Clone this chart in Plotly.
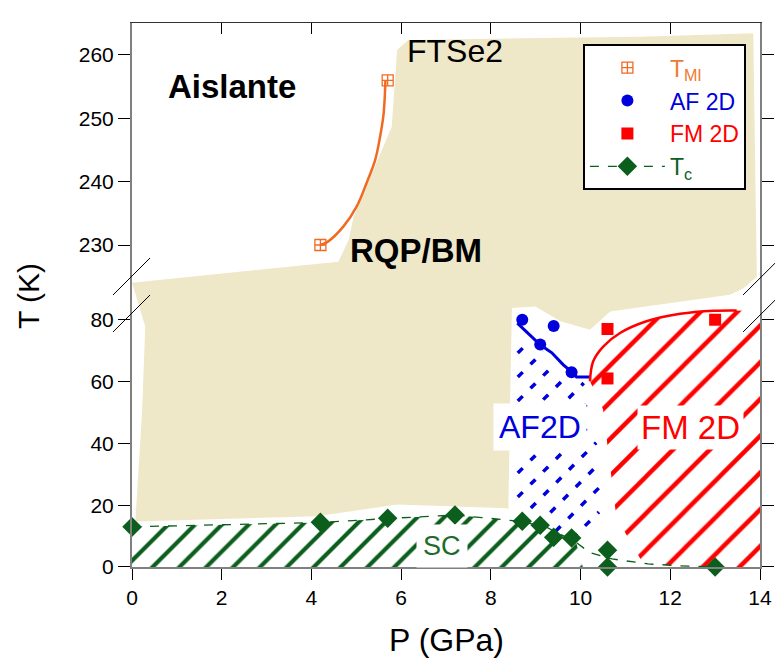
import plotly.graph_objects as go

FONT = "Liberation Sans, Arial, sans-serif"
BEIGE = "#EEE8C8"
GREEN = "#0B5E1C"
BLUE = "#0000DD"
RED = "#FF0000"
ORANGE = "#F06A22"

# ---------------- data (P in GPa, T in K) ----------------
# T_MI (upper panel)
tmi_P = [4.2, 5.7]
tmi_T = [230, 256]
tmi_curve_P = [4.2, 4.36, 4.71, 5.01, 5.23, 5.42, 5.53, 5.61, 5.65]
tmi_curve_T = [230, 230.5, 232.9, 236.1, 239.8, 243.4, 247.1, 250.8, 256]

# AF 2D
af_P = [8.7, 9.4, 9.1, 9.8]
af_T = [80, 78, 72, 63]
af_line_P = [8.59, 8.87, 9.10, 9.36, 9.61, 9.80, 9.91, 10.21]
af_line_T = [78.9, 75.2, 71.9, 69.3, 65.5, 63.1, 61.5, 61.5]

# FM 2D
fm_P = [10.6, 10.6, 13.0]
fm_T = [77, 61, 80]
fm_curve_P = [10.21, 10.28, 10.51, 10.88, 11.47, 12.22, 12.96, 13.48]
fm_curve_T = [60.1, 66.5, 71.4, 75.7, 79.5, 81.9, 82.9, 83.0]

# Tc
tc_P = [0, 4.2, 5.7, 7.2, 8.7, 9.1, 9.4, 9.8, 10.6, 10.6, 13.0]
tc_T = [13, 14.5, 15.8, 16.8, 14.8, 13.5, 9.6, 9.4, 5.4, 0, 0]
tc_line_P = [0, 4.2, 5.7, 7.2, 7.8, 8.7, 9.25, 9.9, 10.2, 10.7, 11.5, 12.2, 13]
tc_line_T = [13, 14.4, 15.7, 16.8, 16, 14.7, 12.8, 8, 4.7, 2.6, 1, 0.4, 0]

# Beige (RQP/BM) region, upper panel part
bg_up_P = [0.083, 0, 4.60, 4.83, 4.94, 5.79, 5.91, 6.16, 8.65, 11.33, 13.85, 13.89, 13.93, 13.63, 13.33]
bg_up_T = [222.1, 224.05, 227.36, 230.79, 234.47, 248.68, 260.79, 262.37, 262.64, 262.89, 263.43, 246.1, 225.0, 223.16, 222.1]
# Beige region, lower panel part
bg_lo_P = [0.042, 13.6, 13.33, 10.66, 10.21, 9.55, 8.99, 8.47, 8.43, 8.39, 8.36, 5.91, 4.12, 0.074, 0.223, 0.296]
bg_lo_T = [90.0, 90.0, 88.1, 82.7, 76.8, 79.5, 84.3, 83.8, 54.0, 18.5, 19.0, 20.2, 16.4, 14.75, 49.9, 77.8]

# Hatched regions
sc_P = [0, 4.2, 5.7, 7.2, 7.8, 8.7, 9.25, 9.9, 10.05, 0]
sc_T = [13, 14.4, 15.7, 16.8, 16, 14.7, 12.8, 8, 0, 0]
afr_P = [8.6, 8.87, 9.1, 9.36, 9.61, 9.8, 9.91, 10.21, 10.35, 10.5, 10.0, 9.25, 8.7, 8.6]
afr_T = [76, 73.5, 70.5, 67.5, 63.5, 61, 59.5, 59.5, 40, 20, 8, 12.8, 14.7, 15]
fmr_P = [10.21, 10.28, 10.51, 10.88, 11.47, 12.22, 12.96, 13.48, 14, 14, 13, 12.2, 11.4, 10.8, 10.6, 10.5]
fmr_T = [60.1, 66.5, 71.4, 75.7, 79.5, 81.9, 82.9, 83.0, 83, 0, 0, 0.4, 1, 16, 39, 51]

x_ticks = [0, 2, 4, 6, 8, 10, 12, 14]
y_lo_ticks = [0, 20, 40, 60, 80]
y_up_ticks = [230, 240, 250, 260]

X_RANGE = [0, 14]
Y_LO_RANGE = [0, 88.97]
Y_UP_RANGE = [222.58, 265.05]
BREAK = 0.5055

# plot-area size in px (for a 45-degree on-screen hatch)
PX_PER_P = 628 / (X_RANGE[1] - X_RANGE[0])
PX_PER_T = (BREAK * 544) / (Y_LO_RANGE[1] - Y_LO_RANGE[0])


def hatch_lines(xs, ys, spacing_px):
    """Clip a family of '/' lines (45 deg on screen) to a polygon."""
    us = [x * PX_PER_P for x in xs]
    vs = [y * PX_PER_T for y in ys]
    n = len(us)
    ds = [v - u for u, v in zip(us, vs)]
    c = min(ds) + spacing_px / 2
    out_x, out_y = [], []
    while c < max(ds):
        pts = []
        for i in range(n):
            u1, v1, u2, v2 = us[i], vs[i], us[(i + 1) % n], vs[(i + 1) % n]
            f1, f2 = v1 - u1 - c, v2 - u2 - c
            if (f1 < 0) != (f2 < 0):
                t = f1 / (f1 - f2)
                pts.append(u1 + t * (u2 - u1))
        pts.sort()
        for k in range(0, len(pts) - 1, 2):
            for u in (pts[k], pts[k + 1]):
                out_x.append(u / PX_PER_P)
                out_y.append((u + c) / PX_PER_T)
            out_x.append(None)
            out_y.append(None)
        c += spacing_px
    return out_x, out_y


fig = go.Figure()

# beige regions
fig.add_trace(go.Scatter(x=bg_up_P, y=bg_up_T, xaxis="x2", yaxis="y2", mode="lines",
                         fill="toself", fillcolor=BEIGE, line=dict(width=0, color=BEIGE),
                         showlegend=False, hoverinfo="skip"))
fig.add_trace(go.Scatter(x=bg_lo_P, y=bg_lo_T, mode="lines",
                         fill="toself", fillcolor=BEIGE, line=dict(width=0, color=BEIGE),
                         showlegend=False, hoverinfo="skip"))


def hatch(xs, ys, color, size, solidity):
    return go.Scatter(x=xs, y=ys, mode="lines", fill="toself",
                      fillcolor="rgba(0,0,0,0)", line=dict(width=0, color="rgba(0,0,0,0)"),
                      fillpattern=dict(shape="/", fgcolor=color, bgcolor="rgba(0,0,0,0)",
                                       size=size, solidity=solidity, fillmode="replace"),
                      showlegend=False, hoverinfo="skip")


fig.add_trace(hatch(sc_P, sc_T, GREEN, 19, 0.22))
fig.add_trace(hatch(fmr_P, fmr_T, RED, 26, 0.17))
hx, hy = hatch_lines(afr_P, afr_T, 24)
fig.add_trace(go.Scatter(x=hx, y=hy, mode="lines", connectgaps=False,
                         line=dict(color=BLUE, width=3.5, dash="7px,11px"),
                         showlegend=False, hoverinfo="skip"))

# lines
fig.add_trace(go.Scatter(x=tc_line_P, y=tc_line_T, mode="lines",
                         line=dict(color=GREEN, width=1.3, dash="dash"),
                         showlegend=False, hoverinfo="skip"))
fig.add_trace(go.Scatter(x=tmi_curve_P, y=tmi_curve_T, xaxis="x2", yaxis="y2", mode="lines",
                         line=dict(color=ORANGE, width=2.5, shape="spline"),
                         showlegend=False, hoverinfo="skip"))
fig.add_trace(go.Scatter(x=af_line_P, y=af_line_T, mode="lines",
                         line=dict(color=BLUE, width=3),
                         showlegend=False, hoverinfo="skip"))
fig.add_trace(go.Scatter(x=fm_curve_P, y=fm_curve_T, mode="lines",
                         line=dict(color=RED, width=2.5, shape="spline"),
                         showlegend=False, hoverinfo="skip"))

# markers
fig.add_trace(go.Scatter(x=tmi_P, y=tmi_T, xaxis="x2", yaxis="y2", mode="markers",
                         marker=dict(symbol="square-cross-open", size=11, color=ORANGE,
                                     line=dict(width=1.3, color=ORANGE)),
                         name='<span style="color:#F07A30">T<sub>MI</sub></span>'))
fig.add_trace(go.Scatter(x=af_P, y=af_T, mode="markers",
                         marker=dict(symbol="circle", size=12, color=BLUE),
                         name='<span style="color:#0000DD">AF 2D</span>'))
fig.add_trace(go.Scatter(x=fm_P, y=fm_T, mode="markers",
                         marker=dict(symbol="square", size=12, color=RED),
                         name='<span style="color:#FF0000">FM 2D</span>'))
fig.add_trace(go.Scatter(x=tc_P, y=tc_T, mode="markers", cliponaxis=False,
                         marker=dict(symbol="diamond", size=15, color=GREEN),
                         showlegend=False))
fig.add_trace(go.Scatter(x=[None], y=[None], mode="lines+markers",
                         line=dict(color=GREEN, width=1.3, dash="dash"),
                         marker=dict(symbol="diamond", size=15, color=GREEN),
                         name='<span style="color:#0B5E1C">T<sub>c</sub></span>'))

tickfont = dict(family=FONT, size=21, color="black")
common_x = dict(range=X_RANGE, tickvals=x_ticks, showgrid=False, zeroline=False,
                tickcolor="black", tickwidth=1.2, ticklen=11, automargin=False)
common_y = dict(showgrid=False, zeroline=False, tickcolor="black", tickwidth=1.2, ticklen=12,
                automargin=False)

fig.update_layout(
    width=775, height=662, autosize=False,
    margin=dict(l=132, r=15, t=23, b=95, pad=0),
    paper_bgcolor="white", plot_bgcolor="white",
    font=dict(family=FONT, color="black"),
    xaxis=dict(**common_x, domain=[0, 1], anchor="y", ticks="outside", showline=True,
               linecolor="#808080", linewidth=2, tickfont=tickfont),
    xaxis3=dict(**common_x, overlaying="x", anchor="y", ticks="inside", showline=False,
                showticklabels=False),
    xaxis2=dict(**common_x, domain=[0, 1], anchor="y2", side="top", ticks="inside",
                showline=True, linecolor="#333333", linewidth=1.3, showticklabels=False),
    yaxis=dict(**common_y, domain=[0, BREAK], range=Y_LO_RANGE, tickvals=y_lo_ticks,
               anchor="x", ticks="outside", mirror="ticks", showline=True,
               linecolor="#808080", linewidth=2, tickfont=tickfont),
    yaxis3=dict(**common_y, overlaying="y", range=Y_LO_RANGE, tickvals=y_lo_ticks,
                anchor="x", ticks="inside", mirror="ticks", showline=False,
                showticklabels=False),
    yaxis2=dict(**common_y, domain=[BREAK, 1], range=Y_UP_RANGE, tickvals=y_up_ticks,
                anchor="x2", ticks="outside", mirror="ticks", showline=True,
                linecolor="#808080", linewidth=2, tickfont=tickfont),
    yaxis4=dict(**common_y, overlaying="y2", range=Y_UP_RANGE, tickvals=y_up_ticks,
                anchor="x2", ticks="inside", mirror="ticks", showline=False,
                showticklabels=False),
    legend=dict(x=0.718, y=0.961, xanchor="left", yanchor="top", bgcolor="white",
                bordercolor="black", borderwidth=2, font=dict(family=FONT, size=23),
                itemwidth=75, tracegroupgap=0),
)

# axis break marks
for (x0, y0, x1, y1) in [(-0.0303, 0.5, 0.0287, 0.568), (-0.0303, 0.432, 0.0287, 0.5),
                         (0.973, 0.5, 1.0287, 0.564), (0.973, 0.432, 1.0287, 0.496)]:
    fig.add_shape(type="line", xref="paper", yref="paper", x0=x0, y0=y0, x1=x1, y1=y1,
                  line=dict(color="black", width=1))

# text labels
fig.add_annotation(x=2.24, y=255.1, xref="x2", yref="y2", text="<b>Aislante</b>",
                   showarrow=False, font=dict(family=FONT, size=33, color="black"))
fig.add_annotation(x=7.2, y=260.6, xref="x2", yref="y2", text="FTSe2",
                   showarrow=False, font=dict(family=FONT, size=32, color="black"))
fig.add_annotation(x=6.34, y=229.2, xref="x2", yref="y2", text="<b>RQP/BM</b>",
                   showarrow=False, font=dict(family=FONT, size=33, color="black"))
fig.add_annotation(x=9.1, y=45.3, xref="x", yref="y", text="AF2D", showarrow=False,
                   bgcolor="white", borderpad=5,
                   font=dict(family=FONT, size=32, color=BLUE))
fig.add_annotation(x=12.44, y=45.2, xref="x", yref="y", text="FM 2D", showarrow=False,
                   bgcolor="white", borderpad=3,
                   font=dict(family=FONT, size=33, color=RED))
fig.add_annotation(x=6.9, y=6.9, xref="x", yref="y", text="SC", showarrow=False,
                   bgcolor="white", borderpad=6,
                   font=dict(family=FONT, size=27, color="#1E6B2A"))

# axis titles
fig.add_annotation(x=-0.1656, y=0.498, xref="paper", yref="paper", text="T (K)",
                   xanchor="center", yanchor="middle",
                   textangle=-90, showarrow=False, font=dict(family=FONT, size=30))
fig.add_annotation(x=0.5, y=-0.134, xref="paper", yref="paper", text="P (GPa)",
                   xanchor="center", yanchor="middle",
                   showarrow=False, font=dict(family=FONT, size=32))

fig.write_html("out.html", config={"responsive": False, "displayModeBar": False},
               post_script="document.body.style.margin='0px';")
